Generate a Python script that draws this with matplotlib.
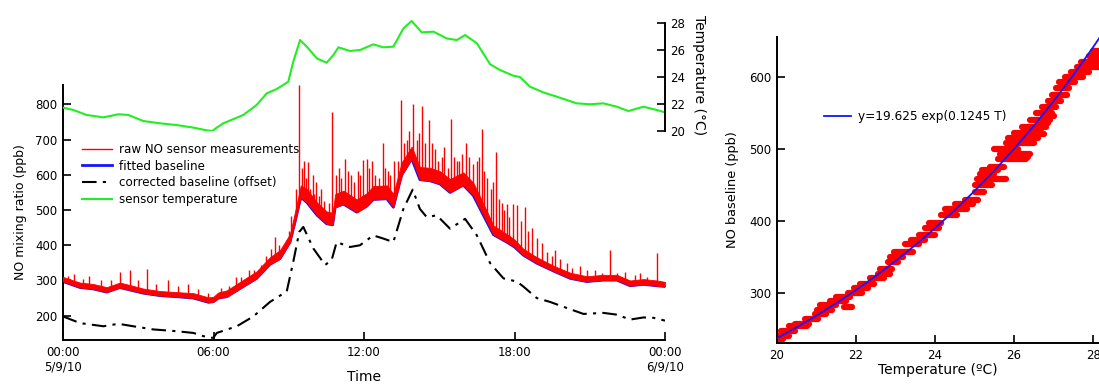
import numpy as np
import matplotlib
matplotlib.use("Agg")
import matplotlib.pyplot as plt

plt.rcParams["font.family"] = ["DejaVu Sans"]

# sensor temperature (deg C) vs hour of day
temp_hours = [0.0, 0.41, 0.94, 1.61, 2.21, 2.6, 3.2, 3.87, 4.53, 5.2, 5.73, 5.95, 6.13, 6.39,
              7.19, 7.72, 8.12, 8.52, 8.98, 9.18, 9.45, 9.72, 10.12, 10.51, 10.78, 10.98,
              11.44, 11.84, 12.37, 12.77, 13.17, 13.57, 13.9, 14.3, 14.77, 15.3, 15.7, 16.03,
              16.5, 17.03, 17.42, 17.95, 18.22, 18.62, 19.15, 19.69, 20.48, 21.01, 21.54,
              22.08, 22.54, 23.14, 23.67, 24.0]
temp_values = [21.73, 21.56, 21.19, 21.01, 21.24, 21.19, 20.74, 20.57, 20.44, 20.25, 20.05,
               20.0, 20.25, 20.57, 21.19, 21.93, 22.79, 23.11, 23.65, 25.13, 26.74, 26.25,
               25.38, 25.06, 25.63, 26.2, 25.93, 26.0, 26.42, 26.2, 26.25, 27.6, 28.15, 27.31,
               27.36, 26.86, 26.74, 27.11, 26.5, 24.94, 24.52, 24.1, 24.0, 23.28, 22.86, 22.54,
               22.05, 21.98, 22.05, 21.8, 21.48, 21.8, 21.56, 21.38]

# fitted baseline and top of the raw signal band (ppb)
base_hours = [0.0, 0.68, 1.21, 1.74, 2.27, 2.67, 3.2, 3.87, 4.53, 5.2, 5.8, 6.0, 6.19, 6.53,
              7.19, 7.72, 8.25, 8.65, 9.05, 9.25, 9.48, 9.72, 10.12, 10.51, 10.75, 10.85,
              11.18, 11.71, 12.11, 12.37, 12.91, 13.17, 13.5, 13.9, 14.23, 14.63, 15.03, 15.43,
              15.96, 16.36, 16.76, 17.16, 17.69, 18.0, 18.35, 18.89, 19.55, 20.22, 20.88,
              21.54, 22.08, 22.61, 23.14, 23.67, 24.0]
base_values = [297, 280, 276, 267, 280, 273, 264, 257, 254, 250, 238, 240, 250, 254, 283, 306,
               346, 362, 409, 466, 536, 522, 486, 461, 458, 508, 517, 494, 511, 530, 532, 508,
               599, 646, 586, 583, 574, 550, 571, 541, 485, 430, 409, 395, 372, 349, 327, 306,
               297, 301, 301, 285, 289, 285, 283]
raw_top = [310, 294, 290, 281, 294, 287, 277, 270, 267, 264, 252, 254, 266, 272, 302, 326,
           366, 386, 432, 495, 570, 560, 522, 496, 492, 545, 555, 530, 548, 568, 570, 546,
           635, 680, 622, 620, 610, 588, 607, 577, 518, 456, 432, 416, 390, 366, 342, 322,
           312, 316, 316, 300, 304, 300, 296]

# spikes in the raw measurements
spike_hours = [0.2, 0.45, 0.8, 1.05, 1.5, 1.9, 2.27, 2.67, 3.0, 3.34, 3.7, 4.2, 4.6, 5.0, 5.4,
               5.8, 6.3, 6.6, 6.9, 7.1, 7.4, 7.6, 7.9, 8.1, 8.3, 8.45, 8.6, 8.8, 9.0, 9.1, 9.3,
               9.42, 9.52, 9.6, 9.68, 9.75, 9.85, 9.95, 10.0, 10.1, 10.2, 10.3, 10.4, 10.6,
               10.74, 10.9, 11.0, 11.1, 11.24, 11.35, 11.5, 11.6, 11.75, 11.85, 11.97, 12.1,
               12.2, 12.3, 12.45, 12.6, 12.75, 12.85, 12.95, 13.05, 13.2, 13.35, 13.46, 13.6,
               13.7, 13.8, 13.97, 14.1, 14.2, 14.3, 14.45, 14.6, 14.7, 14.85, 14.95, 15.1,
               15.2, 15.35, 15.46, 15.6, 15.7, 15.8, 15.9, 16.05, 16.2, 16.35, 16.5, 16.6,
               16.69, 16.8, 16.9, 17.05, 17.15, 17.26, 17.4, 17.5, 17.6, 17.7, 17.8, 17.93,
               18.1, 18.25, 18.42, 18.55, 18.7, 18.9, 19.09, 19.3, 19.5, 19.62, 19.8, 20.1,
               20.3, 20.6, 20.9, 21.2, 21.5, 21.81, 22.1, 22.4, 22.8, 23.0, 23.3, 23.67]
spike_values = [312, 318, 305, 312, 300, 300, 323, 330, 300, 334, 290, 300, 285, 290, 275,
                265, 280, 285, 310, 310, 330, 330, 345, 370, 390, 423, 400, 400, 440, 484,
                560, 855, 620, 640, 590, 635, 560, 600, 545, 580, 540, 560, 525, 520, 778,
                600, 620, 590, 644, 610, 600, 580, 610, 600, 642, 645, 620, 640, 600, 590,
                691, 620, 610, 600, 640, 640, 813, 690, 700, 724, 802, 700, 720, 796, 690,
                757, 690, 672, 640, 650, 680, 620, 759, 650, 640, 640, 660, 690, 650, 630,
                640, 650, 729, 610, 590, 560, 580, 665, 530, 520, 500, 517, 480, 517, 515,
                470, 508, 440, 450, 420, 405, 380, 370, 386, 360, 350, 335, 340, 330, 330,
                320, 386, 320, 325, 315, 320, 310, 377]

# corrected baseline (offset)
corr_hours = [0.0, 0.68, 1.61, 2.21, 2.8, 3.6, 4.53, 5.2, 5.73, 5.99, 6.13, 6.93, 7.59, 8.25,
              8.92, 9.18, 9.42, 9.58, 9.98, 10.45, 10.71, 10.91, 11.44, 11.84, 12.37, 12.77,
              13.17, 13.57, 13.94, 14.23, 14.5, 14.9, 15.43, 16.03, 16.5, 17.03, 17.56, 18.09,
              18.35, 18.89, 19.42, 20.08, 20.75, 21.54, 22.08, 22.61, 23.14, 23.54, 24.0]
corr_values = [198, 179, 170, 177, 170, 161, 156, 151, 139, 137, 151, 170, 198, 239, 269, 353,
               438, 452, 391, 344, 358, 409, 395, 400, 428, 419, 409, 503, 558, 503, 480, 485,
               447, 475, 428, 349, 306, 297, 283, 250, 239, 222, 205, 208, 203, 189, 195, 194,
               186]

# right panel: baseline vs temperature clusters (ppb, T start, T end)
cl_ppb = [235, 240, 246, 253, 257, 263, 270, 276, 283, 289, 294, 280, 300, 306, 312, 320, 326,
          333, 342, 350, 357, 367, 373, 380, 390, 397, 408, 416, 423, 428, 440, 450, 458, 465,
          470, 475, 485, 488, 492, 495, 500, 508, 515, 520, 522, 530, 535, 540, 545, 550, 558,
          566, 575, 584, 592, 600, 606, 614, 620, 628, 636]
cl_t0 = [20.0, 20.0, 20.1, 20.3, 20.45, 20.7, 20.95, 21.0, 21.1, 21.35, 21.5, 21.7, 21.8, 21.95,
         22.1, 22.35, 22.55, 22.6, 22.8, 22.85, 22.95, 23.25, 23.4, 23.6, 23.75, 23.85, 24.15,
         24.25, 24.5, 24.75, 25.0, 25.0, 25.05, 25.15, 25.2, 25.4, 25.6, 25.9, 25.65, 25.7,
         25.5, 25.8, 25.85, 26.3, 26.0, 26.2, 26.6, 26.4, 26.75, 26.55, 26.7, 26.85, 26.95,
         27.05, 27.15, 27.3, 27.45, 27.6, 27.7, 27.9, 28.0]
cl_t1 = [20.15, 20.3, 20.45, 20.75, 20.8, 21.05, 21.25, 21.4, 21.5, 21.75, 21.85, 21.9, 22.15,
         22.3, 22.45, 22.7, 22.85, 22.9, 23.05, 23.2, 23.45, 23.6, 23.75, 24.0, 24.1, 24.15,
         24.55, 24.8, 24.95, 25.1, 25.25, 25.45, 25.8, 25.5, 25.6, 25.75, 26.3, 26.35, 26.4,
         26.1, 26.1, 26.5, 26.6, 26.75, 26.7, 26.8, 26.85, 26.9, 27.0, 26.95, 27.05, 27.2,
         27.35, 27.4, 27.55, 27.75, 27.9, 28.15, 28.15, 28.15, 28.15]

# exponential fit y = 19.625 exp(0.1245 T), read at 0.5 degree steps
fit_temp = [20.0, 20.5, 21.0, 21.5, 22.0, 22.5, 23.0, 23.5, 24.0, 24.5, 25.0, 25.5, 26.0,
            26.5, 27.0, 27.5, 28.0, 28.2]
fit_ppb = [236.7, 251.9, 268.1, 285.3, 303.6, 323.1, 343.9, 366.0, 389.5, 414.5, 441.1, 469.4,
           499.6, 531.7, 565.8, 602.1, 640.8, 656.9]

time_ticks = [0, 6, 12, 18, 24]
time_labels = ["00:00\n5/9/10", "06:00", "12:00", "18:00", "00:00\n6/9/10"]

RED = "#ff0000"
BLUE = "#1414ff"
GREEN = "#22ee22"
W, H = 1099, 385


def px_axes(fig, x0, y0, x1, y1):
    # pixel box (top-left origin) -> figure fraction axes
    return fig.add_axes([x0 / W, 1 - y1 / H, (x1 - x0) / W, (y1 - y0) / H])


fig = plt.figure(figsize=(W / 100, H / 100), dpi=100)

# ---- left panel: time series ----
ax = px_axes(fig, 63, 85, 665, 340)
ax.plot(base_hours, base_values, color=BLUE, lw=2.0, zorder=2)
ax.fill_between(base_hours, base_values, raw_top, color=RED, lw=0.6, zorder=3)
spike_base = np.interp(spike_hours, base_hours, base_values)
ax.vlines(spike_hours, spike_base, spike_values, color=RED, lw=1.0, zorder=3)
ax.plot(corr_hours, corr_values, color="black", lw=1.5, dashes=(7, 3, 1.5, 3), zorder=2)

ax.set_xlim(0, 24)
ax.set_ylim(131, 855)
ax.set_xticks(time_ticks)
ax.set_xticklabels(time_labels)
ax.set_yticks([200, 300, 400, 500, 600, 700, 800])
ax.tick_params(direction="in", length=6, width=1.2, labelsize=8.5, pad=4)
for side in ["top", "right"]:
    ax.spines[side].set_visible(False)
for side in ["left", "bottom"]:
    ax.spines[side].set_linewidth(1.4)
ax.set_xlabel("Time", fontsize=10)
ax.xaxis.set_label_coords(0.5, -0.118)
ax.set_ylabel("NO mixing ratio (ppb)", fontsize=9, labelpad=6)
ax.patch.set_alpha(0)

# temperature on its own short axis on the right
axt = px_axes(fig, 63, 19, 665, 131)
axt.plot(temp_hours, temp_values, color=GREEN, lw=1.5)
axt.set_xlim(0, 24)
axt.set_ylim(20, 28.3)
axt.set_yticks([20, 22, 24, 26, 28])
axt.yaxis.tick_right()
axt.yaxis.set_label_position("right")
axt.set_xticks([])
for side in ["top", "left", "bottom"]:
    axt.spines[side].set_visible(False)
axt.spines["right"].set_bounds(20, 28)
axt.spines["right"].set_linewidth(1.4)
axt.tick_params(direction="in", length=6, width=1.2, labelsize=8.5, pad=4)
axt.set_ylabel("Temperature (°C)", rotation=270, fontsize=10, labelpad=15)
axt.patch.set_alpha(0)

# legend
h_raw = plt.Line2D([], [], color=RED, lw=1.0)
h_base = plt.Line2D([], [], color=BLUE, lw=2.0)
h_corr = plt.Line2D([], [], color="black", lw=1.5, dashes=(7, 3, 1.5, 3))
h_temp = plt.Line2D([], [], color=GREEN, lw=1.5)
fig.legend([h_raw, h_base, h_corr, h_temp],
           ["raw NO sensor measurements", "fitted baseline", "corrected baseline (offset)",
            "sensor temperature"],
           loc="upper left", bbox_to_anchor=(82 / W, 1 - 143 / H), frameon=False,
           fontsize=8.6, handlelength=2.5, handletextpad=0.6, labelspacing=0.3,
           borderaxespad=0, borderpad=0)

# ---- right panel: baseline vs temperature ----
ax2 = px_axes(fig, 777, 37, 1099, 343)
ax2.hlines(cl_ppb, cl_t0, cl_t1, color=RED, lw=4.5, capstyle="round", zorder=2)
ax2.plot(fit_temp, fit_ppb, color=BLUE, lw=1.3, zorder=3, label="y=19.625 exp(0.1245 T)")
ax2.set_xlim(20, 28.15)
ax2.set_ylim(230, 655)
ax2.set_xticks([20, 22, 24, 26, 28])
ax2.set_yticks([300, 400, 500, 600])
ax2.tick_params(direction="in", length=6, width=1.2, labelsize=8.5, pad=4)
for side in ["top", "right"]:
    ax2.spines[side].set_visible(False)
for side in ["left", "bottom"]:
    ax2.spines[side].set_linewidth(1.4)
ax2.set_xlabel("Temperature (ºC)", fontsize=10, labelpad=1)
ax2.set_ylabel("NO baseline (ppb)", fontsize=9.3, labelpad=7)
ax2.legend(loc="upper left", bbox_to_anchor=(824 / W, 1 - 110 / H),
           bbox_transform=fig.transFigure, frameon=False, fontsize=8.7,
           handlelength=2.2, handletextpad=0.6, borderaxespad=0, borderpad=0)

fig.savefig("out.png", dpi=100)
